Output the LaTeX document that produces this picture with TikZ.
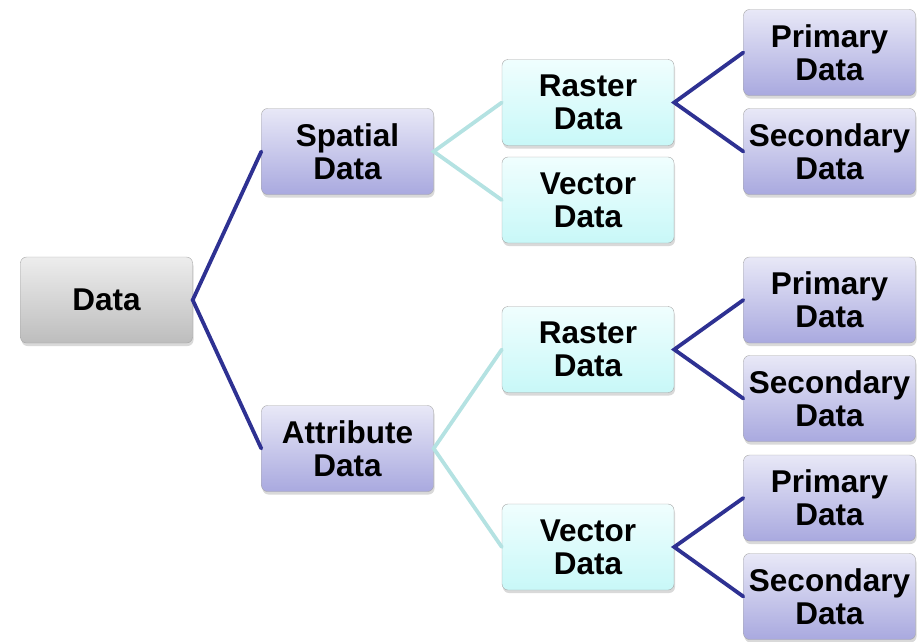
\documentclass[tikz,border=0pt]{standalone}
\usepackage{fontspec}
\setmainfont{Liberation Sans}
\usepackage{tikz}
\usetikzlibrary{shadows}
\usepackage{xcolor}
\definecolor{linkdark}{HTML}{2E3192}
\definecolor{linklight}{HTML}{B4E2E2}
\definecolor{lavtop}{HTML}{E8E8F7}
\definecolor{lavbot}{HTML}{A9A9DF}
\definecolor{aquatop}{HTML}{F0FEFE}
\definecolor{aquabot}{HTML}{C8F8F8}
\definecolor{greytop}{HTML}{EDEDED}
\definecolor{greybot}{HTML}{BDBDBD}

\begin{document}
\begin{tikzpicture}[x=1pt,y=-1pt,line cap=round,
  box/.style={draw=gray!70,rounded corners=6pt,minimum width=172pt,minimum height=86pt,
    align=center,font=\fontsize{31.5}{33}\selectfont\bfseries,inner sep=0pt,
    drop shadow={shadow xshift=1pt,shadow yshift=-3pt,opacity=0.3}},
  grey/.style={box,top color=greytop,bottom color=greybot},
  lav/.style={box,top color=lavtop,bottom color=lavbot},
  aqua/.style={box,top color=aquatop,bottom color=aquabot},
  dark/.style={linkdark,line width=3.8pt},
  light/.style={linklight,line width=3.8pt}]
\useasboundingbox (0,0) rectangle (918,641);
\node[grey] (data) at (106.5,300) {Data};
\node[lav] (spatial) at (347.5,151.5) {Spatial\\Data};
\node[lav] (attrib) at (347.5,448.5) {Attribute\\Data};
\node[aqua] (rasterA) at (588,102.5) {Raster\\Data};
\node[aqua] (vectorA) at (588,200) {Vector\\Data};
\node[aqua] (rasterB) at (588,349.5) {Raster\\Data};
\node[aqua] (vectorB) at (588,547) {Vector\\Data};
\node[lav] (primA) at (829.5,52.5) {Primary\\Data};
\node[lav] (secA) at (829.5,151.5) {Secondary\\Data};
\node[lav] (primB) at (829.5,300) {Primary\\Data};
\node[lav] (secB) at (829.5,398.5) {Secondary\\Data};
\node[lav] (primC) at (829.5,498) {Primary\\Data};
\node[lav] (secC) at (829.5,596.5) {Secondary\\Data};
% links
\draw[dark] (spatial.west) -- (data.east) -- (attrib.west);
\draw[light] (rasterA.west) -- (spatial.east) -- (vectorA.west);
\draw[light] (rasterB.west) -- (attrib.east) -- (vectorB.west);
\draw[dark] (primA.west) -- (rasterA.east) -- (secA.west);
\draw[dark] (primB.west) -- (rasterB.east) -- (secB.west);
\draw[dark] (primC.west) -- (vectorB.east) -- (secC.west);
\end{tikzpicture}
\end{document}
